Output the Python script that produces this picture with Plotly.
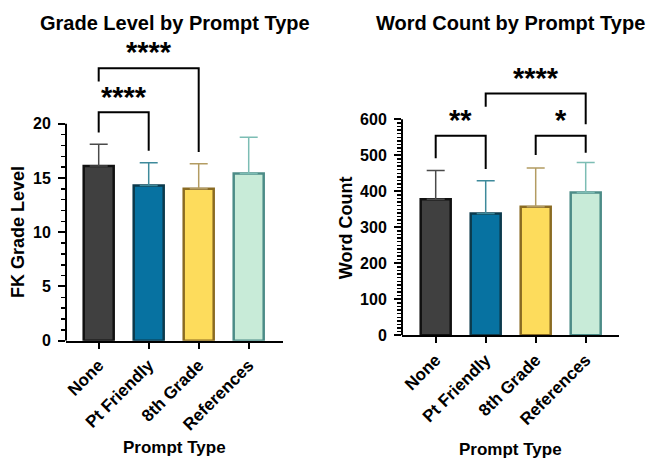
import plotly.graph_objects as go

categories = ["None", "Pt Friendly", "8th Grade", "References"]
grade_mean = [16.1, 14.3, 14.0, 15.4]
grade_sd = [2.0, 2.1, 2.3, 3.35]
word_mean = [378, 338, 357, 397]
word_sd = [80, 91, 108, 83]

fill_colors = ["#404040", "#0772A1", "#FDDC5C", "#C8EBD8"]
edge_colors = ["#111111", "#0C3A4C", "#8A6B22", "#4C8C87"]
err_colors = ["#4A4A4A", "#3E8A9B", "#B39C62", "#7CBDB4"]

grade_ticks = [0, 5, 10, 15, 20]
grade_minor = [v for v in range(0, 21) if v % 5]
word_ticks = [0, 100, 200, 300, 400, 500, 600]
word_minor = [v for v in range(0, 601, 10) if v % 100]

# (left idx, right idx, left leg bottom, right leg bottom, bracket top, label, label y)
grade_sig = [(0, 1, 19.2, 17.5, 21.05, "****", 22.5),
             (0, 2, 23.9, 17.4, 25.1, "****", 26.6)]
word_sig = [(0, 1, 492, 462, 554, "**", 597),
            (1, 3, 635, 586, 672, "****", 716),
            (2, 3, 501, 507, 554, "*", 597)]

FONT = "Liberation Sans"
xpos = list(range(len(categories)))

fig = go.Figure()

def add_bars(means, sds, xa, ya):
    for i in range(len(categories)):
        fig.add_trace(go.Bar(
            x=[xpos[i]], y=[means[i]], width=0.6,
            marker=dict(color=fill_colors[i], line=dict(color=edge_colors[i], width=2.5)),
            error_y=dict(type="data", symmetric=False, array=[sds[i]], arrayminus=[0],
                         color=err_colors[i], thickness=1.5, width=9),
            xaxis=xa, yaxis=ya, showlegend=False, hoverinfo="skip"))

add_bars(grade_mean, grade_sd, "x", "y")
add_bars(word_mean, word_sd, "x2", "y2")

def add_sig(sigs, xr, yr):
    for (i, j, yl, yrr, yt, lab, ly) in sigs:
        fig.add_shape(type="path",
                      path=f"M {xpos[i]},{yl} L {xpos[i]},{yt} L {xpos[j]},{yt} L {xpos[j]},{yrr}",
                      xref=xr, yref=yr, line=dict(color="black", width=2))
        fig.add_annotation(x=(xpos[i] + xpos[j]) / 2, y=ly, xref=xr, yref=yr, text=lab,
                           showarrow=False, yanchor="middle",
                           font=dict(family=FONT, size=29, color="black", weight="bold"))

add_sig(grade_sig, "x", "y")
add_sig(word_sig, "x2", "y2")

# y axis lines (only across labelled range)
fig.add_shape(type="line", xref="x domain", yref="y", x0=0, x1=0, y0=0, y1=20,
              line=dict(color="black", width=2))
fig.add_shape(type="line", xref="x2 domain", yref="y2", x0=0, x1=0, y0=0, y1=600,
              line=dict(color="black", width=2))

W, H = 650, 458
ytickfont = dict(family=FONT, size=16, color="black", weight="bold")
xtickfont = dict(family=FONT, size=17, color="black", weight="bold")

xcommon = dict(tickmode="array", tickvals=xpos, ticktext=categories, tickangle=-45,
               showline=True, linecolor="black", linewidth=2, ticks="outside",
               ticklen=6, tickwidth=2, tickcolor="black", showgrid=False, zeroline=False,
               tickfont=xtickfont, fixedrange=True, automargin=False)
ycommon = dict(showline=False, ticks="outside", ticklen=7, tickwidth=2, tickcolor="black",
               showgrid=False, zeroline=False, tickfont=ytickfont, tickmode="array",
               automargin=False, ticklabelstandoff=4, fixedrange=True)

fig.update_layout(
    width=W, height=H, margin=dict(l=0, r=0, t=0, b=0),
    paper_bgcolor="white", plot_bgcolor="white", bargap=0,
    xaxis=dict(domain=[66 / W, 283 / W], range=[-0.654, 3.686], anchor="y", **xcommon),
    yaxis=dict(domain=[(H - 340.7) / H, (H - 36.9) / H], range=[0, 28], anchor="x",
               tickvals=grade_ticks,
               minor=dict(tickmode="array", tickvals=grade_minor, ticks="outside",
                          ticklen=4, tickwidth=1.5, tickcolor="black"),
               **ycommon),
    xaxis2=dict(domain=[402 / W, 619 / W], range=[-0.674, 3.666], anchor="y2", **xcommon),
    yaxis2=dict(domain=[(H - 335.3) / H, (H - 47.3) / H], range=[0, 800], anchor="x2",
                tickvals=word_ticks,
                minor=dict(tickmode="array", tickvals=word_minor, ticks="outside",
                           ticklen=4, tickwidth=1.5, tickcolor="black"),
                **ycommon),
)

def label(text, x, y, size, angle=0, xanchor="center"):
    fig.add_annotation(x=x / W, y=1 - y / H, xref="paper", yref="paper", text=text,
                       showarrow=False, xanchor=xanchor, yanchor="middle", textangle=angle,
                       font=dict(family=FONT, size=size, color="black", weight="bold"))

label("Grade Level by Prompt Type", 174.5, 23, 20)
label("Word Count by Prompt Type", 510.4, 23, 20)
label("Prompt Type", 174.7, 447, 17)
label("Prompt Type", 510.8, 449, 17)
label("FK Grade Level", 18, 232, 18, -90)
label("Word Count", 345.7, 227.5, 18, -90)

fig.write_html("out.html", config={"displayModeBar": False, "staticPlot": True},
               post_script="document.body.style.margin='0px';document.body.style.padding='0px';")
